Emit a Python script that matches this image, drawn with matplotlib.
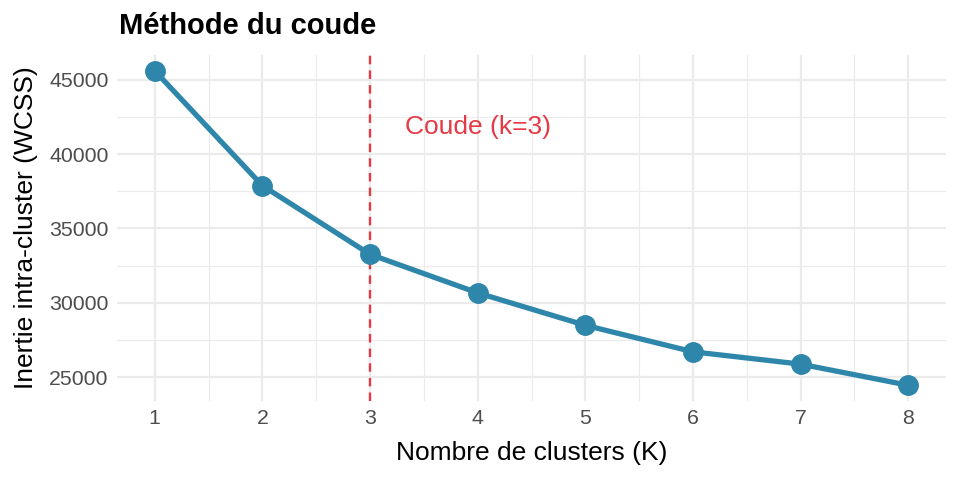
import numpy as np
import matplotlib.pyplot as plt
from matplotlib.ticker import MultipleLocator

# Données de la méthode du coude
k_values = [1, 2, 3, 4, 5, 6, 7, 8]
wcss = [45600, 37880, 33260, 30670, 28490, 26710, 25880, 24460]
k_coude = 3
label_coude = "Coude (k=3)"

line_color = "#2E86AB"
coude_color = "#E63946"

plt.rcParams["font.family"] = ["Liberation Sans", "DejaVu Sans"]

fig = plt.figure(figsize=(9.6, 4.8), dpi=100)
ax = fig.add_axes([117 / 960, 1 - 401 / 480, 829 / 960, 346 / 480])

# grille façon theme_minimal
ax.set_axisbelow(True)
ax.xaxis.set_major_locator(MultipleLocator(1))
ax.xaxis.set_minor_locator(MultipleLocator(0.5))
ax.yaxis.set_major_locator(MultipleLocator(5000))
ax.yaxis.set_minor_locator(MultipleLocator(2500))
ax.grid(which="major", color="#EBEBEB", linewidth=1.6)
ax.grid(which="minor", color="#EBEBEB", linewidth=0.8)
for s in ax.spines.values():
    s.set_visible(False)
ax.tick_params(which="both", length=0)
ax.tick_params(axis="both", labelsize=15.3, colors="#4D4D4D", pad=6)

ax.axvline(k_coude, color=coude_color, linestyle=(0, (3.6, 2.6)), linewidth=1.7)
ax.plot(k_values, wcss, color=line_color, linewidth=3.8,
        marker="o", markersize=14, solid_capstyle="round")

xr = max(k_values) - min(k_values)
yr = max(wcss) - min(wcss)
ax.set_xlim(min(k_values) - 0.05 * xr, max(k_values) + 0.05 * xr)
ax.set_ylim(min(wcss) - 0.05 * yr, max(wcss) + 0.05 * yr)

ax.text(k_coude + 1, 41800, label_coude, color=coude_color,
        fontsize=19, ha="center", va="center")

ax.set_xlabel("Nombre de clusters (K)", fontsize=19, color="black", labelpad=9)
ax.set_ylabel("Inertie intra-cluster (WCSS)", fontsize=19, color="black", labelpad=8)
fig.text(119 / 960, 1 - 26 / 480, "Méthode du coude", fontsize=21,
         fontweight="bold", ha="left", va="center")

fig.savefig("out.png", dpi=100)
